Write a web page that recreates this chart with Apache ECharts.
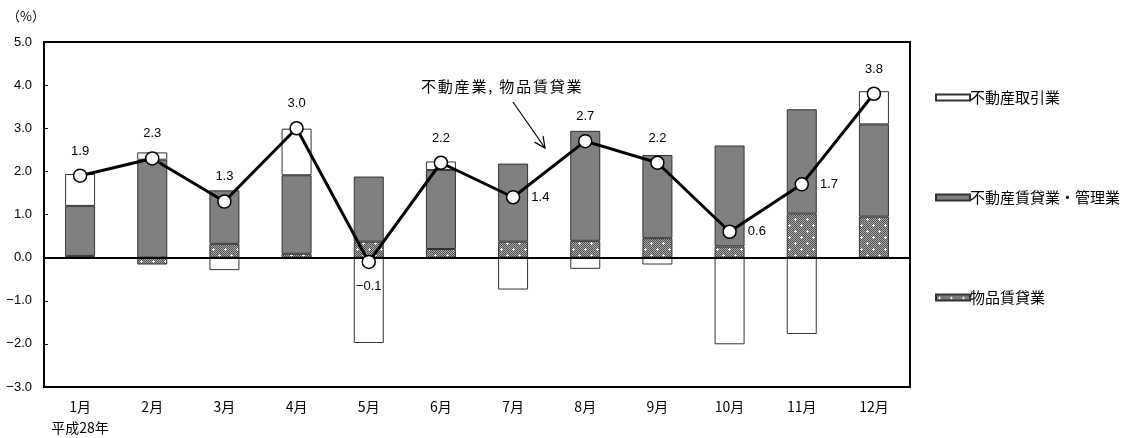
<!DOCTYPE html>
<html>
<head>
<meta charset="utf-8">
<script src="https://cdn.jsdelivr.net/npm/echarts@6/dist/echarts.min.js"></script>
<style>
  html, body { margin: 0; padding: 0; background: #fff; }
  #chart { width: 1121px; height: 438px; }
</style>
</head>
<body>
<div id="chart"></div>
<script>
// 不動産業, 物品賃貸業 — 前年同月比と寄与度（%）
const months = ['1月', '2月', '3月', '4月', '5月', '6月', '7月', '8月', '9月', '10月', '11月', '12月'];
const goodsRental = [0.04, -0.16, 0.32, 0.09, 0.37, 0.20, 0.37, 0.39, 0.45, 0.26, 1.02, 0.95];        // 物品賃貸業
const estateLeasing = [1.16, 2.27, 1.24, 1.82, 1.51, 1.83, 1.81, 2.55, 1.93, 2.34, 2.42, 2.14];     // 不動産賃貸業・管理業
const estateTrading = [0.74, 0.17, -0.29, 1.08, -1.98, 0.20, -0.74, -0.26, -0.16, -2.01, -1.77, 0.77]; // 不動産取引業
const industryTotal = [1.9, 2.3, 1.3, 3.0, -0.1, 2.2, 1.4, 2.7, 2.2, 0.6, 1.7, 3.8];                 // 不動産業, 物品賃貸業
const yTicks = { min: -3, max: 5, step: 1 };

// where each value label of the total line sits relative to its marker
const totalLabelSide = ['top', 'top', 'top', 'top', 'bottom', 'top', 'right', 'top', 'top', 'right', 'right', 'top'];

const JP = '"Noto Sans CJK JP", "Noto Sans", sans-serif';
const NUM = '"Liberation Sans", Arial, sans-serif';
const minus = s => s.replace('-', '\u2212');

// dotted fill for 物品賃貸業: fine grey checker with scattered white crosses
function dotPattern() {
  const c = document.createElement('canvas');
  c.width = 12; c.height = 12;
  const g = c.getContext('2d');
  for (let y = 0; y < 12; y++) {
    for (let x = 0; x < 12; x++) {
      g.fillStyle = (x + y) % 2 === 0 ? '#505050' : '#a8a8a8';
      g.fillRect(x, y, 1, 1);
    }
  }
  g.fillStyle = '#ffffff';
  [[3, 3], [9, 9]].forEach(([cx, cy]) => {
    g.fillRect(cx - 1, cy, 3, 1);
    g.fillRect(cx, cy - 1, 1, 3);
  });
  return c;
}

// lay out a string one glyph at a time with extra tracking between glyphs
function trackedText(str, x, y, font, tracking) {
  const ctx = document.createElement('canvas').getContext('2d');
  ctx.font = font;
  const parts = [];
  let cx = x;
  for (const ch of str) {
    parts.push({ type: 'text', x: cx, y: y, style: { text: ch, font: font, fill: '#000', textVerticalAlign: 'middle' } });
    cx += ctx.measureText(ch).width + tracking;
  }
  return { type: 'group', children: parts };
}

const chart = echarts.init(document.getElementById('chart'), null, { renderer: 'canvas' });

const barBase = {
  type: 'bar',
  stack: 'contrib',
  barWidth: 30
};

// arrow from the annotation text down toward the line
const arrowFrom = [513, 102], arrowTo = [545, 148];
function arrowHead(from, to, len, spread) {
  const a = Math.atan2(to[1] - from[1], to[0] - from[0]);
  const w1 = [to[0] - len * Math.cos(a - spread), to[1] - len * Math.sin(a - spread)];
  const w2 = [to[0] - len * Math.cos(a + spread), to[1] - len * Math.sin(a + spread)];
  return [w1, to, w2];
}

chart.setOption({
  animation: false,
  textStyle: { fontFamily: JP },
  grid: {
    left: 44, right: 211, top: 42, bottom: 47,
    show: true, borderColor: '#000', borderWidth: 2, backgroundColor: 'transparent'
  },
  legend: {
    orient: 'vertical',
    left: 930, top: 85,
    icon: 'rect',
    itemWidth: 34, itemHeight: 6, itemGap: 85,
    data: ['不動産取引業', '不動産賃貸業・管理業', '物品賃貸業'],
    textStyle: { fontFamily: JP, fontSize: 15, color: '#000', padding: [0, 0, 0, -5] },
    selectedMode: false
  },
  xAxis: {
    type: 'category',
    data: months,
    boundaryGap: true,
    axisLine: { onZero: false, lineStyle: { color: '#000', width: 2 } },
    axisTick: { inside: true, length: 5, interval: 0, lineStyle: { color: '#000', width: 1 } },
    axisLabel: {
      interval: 0, margin: 9, color: '#000', fontFamily: JP, fontSize: 14, lineHeight: 21,
      formatter: (v, i) => i === 0 ? v + '\n平成28年' : v
    }
  },
  yAxis: {
    type: 'value',
    min: yTicks.min, max: yTicks.max, interval: yTicks.step,
    axisLine: { show: true, lineStyle: { color: '#000', width: 2 } },
    axisTick: { show: true, inside: true, length: 4, lineStyle: { color: '#000' } },
    splitLine: { show: false },
    axisLabel: {
      color: '#000', fontFamily: NUM, fontSize: 13, margin: 12,
      formatter: v => minus(v.toFixed(1))
    }
  },
  series: [
    Object.assign({}, barBase, {
      name: '物品賃貸業',
      data: goodsRental,
      itemStyle: { color: { image: dotPattern(), repeat: 'repeat' }, borderColor: '#333', borderWidth: 1 }
    }),
    Object.assign({}, barBase, {
      name: '不動産賃貸業・管理業',
      data: estateLeasing,
      itemStyle: { color: '#808080', borderColor: '#333', borderWidth: 1 }
    }),
    Object.assign({}, barBase, {
      name: '不動産取引業',
      data: estateTrading,
      itemStyle: { color: '#ffffff', borderColor: '#333', borderWidth: 1 }
    }),
    {
      name: '不動産業, 物品賃貸業',
      type: 'line',
      z: 5,
      data: industryTotal.map((v, i) => ({
        value: v,
        label: { position: totalLabelSide[i] }
      })),
      symbol: 'circle',
      symbolSize: 13,
      lineStyle: { color: '#000', width: 3 },
      itemStyle: { color: '#fff', borderColor: '#000', borderWidth: 1.5 },
      label: {
        show: true, distance: 11, color: '#000', fontFamily: NUM, fontSize: 13,
        formatter: p => minus(p.value.toFixed(1))
      },
      markLine: {
        silent: true, symbol: 'none', animation: false,
        label: { show: false },
        lineStyle: { color: '#000', width: 2, type: 'solid' },
        data: [{ yAxis: 0 }]
      }
    }
  ],
  graphic: [
    { type: 'text', left: 7, top: 10, style: { text: '（%）', font: '13px ' + JP, fill: '#000' } },
    trackedText('不動産業, 物品賃貸業', 421, 86, '15px ' + JP, 1.8),
    { type: 'line', shape: { x1: arrowFrom[0], y1: arrowFrom[1], x2: arrowTo[0], y2: arrowTo[1] }, style: { stroke: '#000', lineWidth: 1.2 } },
    { type: 'polyline', shape: { points: arrowHead(arrowFrom, arrowTo, 12, 0.45) }, style: { stroke: '#000', lineWidth: 1.2, fill: null } }
  ]
});
</script>
</body>
</html>
